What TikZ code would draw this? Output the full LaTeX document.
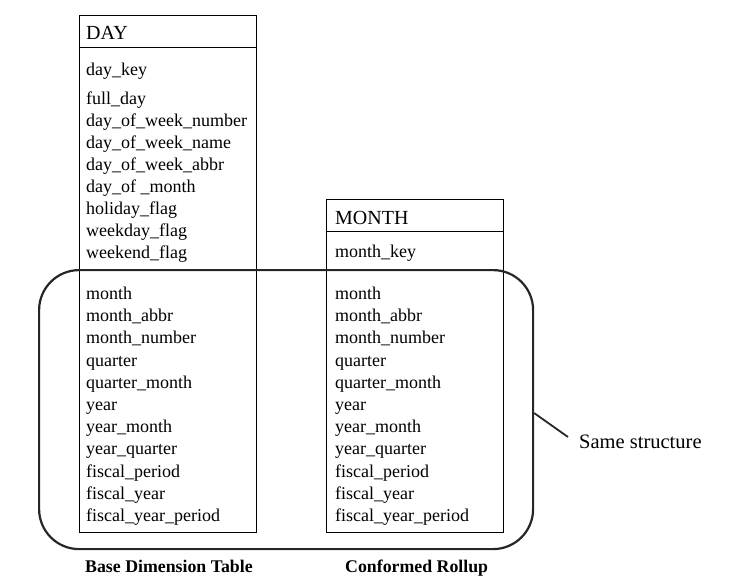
\documentclass[tikz,border=0pt]{standalone}
\usepackage{fontspec}
\setmainfont{Liberation Serif}
\begin{document}
\begin{tikzpicture}[x=1pt,y=-1pt,
  item/.style={anchor=base west,inner sep=0pt,font=\fontsize{18}{21}\selectfont},
  head/.style={anchor=base west,inner sep=0pt,font=\fontsize{20}{23}\selectfont},
  caption/.style={anchor=base west,inner sep=0pt,font=\bfseries\fontsize{17.8}{20}\selectfont},
  note/.style={anchor=base west,inner sep=0pt,font=\fontsize{20.5}{23}\selectfont},
  tbl/.style={draw=black,line width=0.9pt,inner sep=0pt,anchor=north west},
  grp/.style={draw=black!85,line width=2.2pt,rounded corners=40pt,inner sep=0pt,anchor=north west}]
\useasboundingbox (0,0) rectangle (750,578);
% tables
\node[tbl,minimum width=177pt,minimum height=517pt] (daybox) at (79,15) {};
\node[tbl,minimum width=177pt,minimum height=333pt] (monthbox) at (326,199) {};
\coordinate (dayd) at (79,47.3);
\coordinate (monthd) at (326,231.5);
\draw[line width=0.9pt] (dayd) -- (dayd -| daybox.east);
\draw[line width=0.9pt] (monthd) -- (monthd -| monthbox.east);
% group
\node[grp,minimum width=494pt,minimum height=279pt] (group) at (38,269) {};
% headers
\node[head] (dayh) at (86,40) {DAY};
\node[head] (monthh) at (335,224) {MONTH};
% day items
\node[item] (d1) at (86,75.5) {day\_key};
\node[item] (d2) at (86,104.5) {full\_day};
\node[item] (d3) at (86,126.5) {day\_of\_week\_number};
\node[item] (d4) at (86,148.5) {day\_of\_week\_name};
\node[item] (d5) at (86,170.5) {day\_of\_week\_abbr};
\node[item] (d6) at (86,192.5) {day\_of \_month};
\node[item] (d7) at (86,214.5) {holiday\_flag};
\node[item] (d8) at (86,236.5) {weekday\_flag};
\node[item] (d9) at (86,258.5) {weekend\_flag};
\foreach \t [count=\i] in {month,month\_abbr,month\_number,quarter,quarter\_month,year,year\_month,year\_quarter,fiscal\_period,fiscal\_year,fiscal\_year\_period}{
  \node[item] (da\i) at (86,{299.5+22.2*(\i-1)}) {\t};
  \node[item] (ma\i) at (335,{299.5+22.2*(\i-1)}) {\t};
}
\node[item] (m1) at (335,257) {month\_key};
% captions
\node[caption] (cap1) at (85,572) {Base Dimension Table};
\node[caption] (cap2) at (345,572) {Conformed Rollup};
% note
\node[note] (same) at (579,448) {Same structure};
\coordinate (lead) at (568,437);
\draw[line width=1.8pt,black!85] ([yshift=-3.5pt]group.east) -- (lead);
\end{tikzpicture}
\end{document}
